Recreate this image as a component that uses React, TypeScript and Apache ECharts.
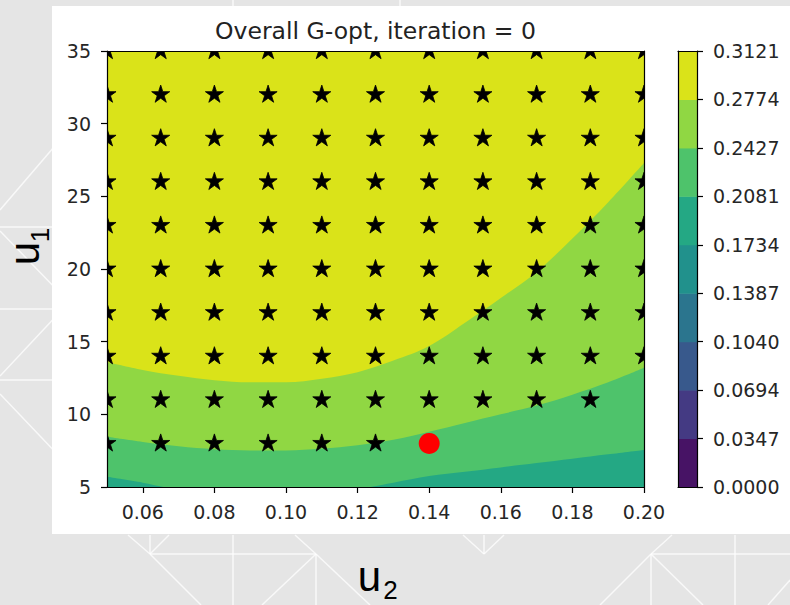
import React, { useEffect, useRef } from "react";
import * as echarts from "echarts";

// Sample positions along u2 where the contour band edges are given
const u2Samples = [0.05, 0.06, 0.07, 0.08, 0.09, 0.1, 0.11, 0.12, 0.13, 0.14, 0.15, 0.16, 0.17, 0.18, 0.19, 0.2];
// u1 of the 0.2774 contour (top of the light-green band)
const boundaryA = [13.6, 13.05, 12.65, 12.35, 12.2, 12.2, 12.45, 12.9, 13.7, 14.7, 16.3, 18.0, 19.8, 22.1, 24.6, 27.3];
// u1 of the 0.2427 contour
const boundaryB = [8.45, 8.1, 7.8, 7.6, 7.52, 7.52, 7.65, 7.88, 8.25, 8.8, 9.4, 10.0, 10.6, 11.35, 12.2, 13.2];
// u1 of the 0.2081 contour
const boundaryC = [5.7, 5.3, 4.8, 4.5, 4.4, 4.4, 4.55, 4.85, 5.3, 5.75, 6.05, 6.35, 6.65, 6.95, 7.25, 7.55];

// Contour levels and their viridis fill colours (one per band)
const levels = [0, 0.0347, 0.0694, 0.104, 0.1387, 0.1734, 0.2081, 0.2427, 0.2774, 0.3121];
const levelColors = ["#471365", "#443a83", "#38598c", "#2b758e", "#21918c", "#24a884", "#4ec36b", "#90d743", "#dae319"];

const u2Ticks = [0.06, 0.08, 0.1, 0.12, 0.14, 0.16, 0.18, 0.2];
const u1Ticks = [5, 10, 15, 20, 25, 30, 35];
const u2Range = [0.05, 0.2];
const u1Range = [5, 35];

// Candidate design points still in play (stars) and the chosen one (red dot)
const u2Grid = [0.05, 0.065, 0.08, 0.095, 0.11, 0.125, 0.14, 0.155, 0.17, 0.185, 0.2];
const u1Grid = [35, 32, 29, 26, 23, 20, 17, 14, 11, 8];
const starsPerRow = [11, 11, 11, 11, 11, 11, 11, 11, 10, 6];
const chosenPoint = [0.14, 8];

const TITLE = "Overall G-opt, iteration = 0";

function starPath(R: number): string {
  const r = R * 0.381966;
  const pts: string[] = [];
  for (let k = 0; k < 10; k++) {
    const rad = k % 2 === 0 ? R : r;
    const a = -Math.PI / 2 + (k * Math.PI) / 5;
    pts.push(`${(rad * Math.cos(a)).toFixed(2)} ${(rad * Math.sin(a)).toFixed(2)}`);
  }
  return "M" + pts.join(" L") + " Z";
}

const STAR = starPath(9.5);

const starPoints: number[][] = [];
u1Grid.forEach((u1, row) => {
  for (let i = 0; i < starsPerRow[row]; i++) starPoints.push([u2Grid[i], u1]);
});

const tickFont = { fontFamily: "DejaVu Sans", fontSize: 19, color: "#262626" };
const spine = { show: true, onZero: false, lineStyle: { color: "#000", width: 1.2 } };
const noTicks = { show: false };
const noLabels = { show: false };
const noSplit = { show: false };

function band(vals: number[] | null, color: string, name: string) {
  const data = vals
    ? u2Samples.map((x, i) => [x, vals[i]])
    : [
        [u2Range[0], u1Range[1]],
        [u2Range[1], u1Range[1]],
      ];
  return {
    type: "line",
    name,
    xAxisIndex: 0,
    yAxisIndex: 0,
    data,
    smooth: 0.35,
    symbol: "none",
    showSymbol: false,
    lineStyle: { width: 0, color },
    areaStyle: { color, opacity: 1, origin: "start" },
    clip: true,
    silent: true,
    z: 1,
  };
}

// Decorative page backdrop segments
const backdrop: number[][] = [
  [0, 210, 60, 140],
  [0, 227, 52, 227],
  [0, 231, 60, 293],
  [0, 309, 52, 309],
  [0, 376, 60, 312],
  [0, 380, 52, 380],
  [0, 394, 60, 457],
  [128, 535, 150, 554],
  [169, 535, 150, 554],
  [150, 554, 201, 605],
  [150, 535, 150, 554],
  [150, 554, 316, 554],
  [233, 535, 233, 605],
  [295, 535, 316, 554],
  [316, 554, 262, 605],
  [316, 554, 370, 605],
  [316, 554, 316, 605],
  [463, 535, 484, 554],
  [504, 535, 484, 554],
  [484, 535, 484, 554],
  [651, 554, 600, 605],
  [651, 554, 703, 605],
  [651, 554, 672, 535],
  [651, 554, 651, 605],
  [651, 554, 790, 554],
  [735, 535, 735, 605],
  [790, 580, 768, 605],
  [233, 0, 233, 8],
  [400, 0, 400, 8],
];

function label(text: string, x: number, y: number, size: number, rotation = 0) {
  return {
    type: "text",
    x,
    y,
    rotation,
    style: {
      text,
      fontFamily: "Liberation Sans",
      fontSize: size,
      fill: "#000",
      align: "center",
      verticalAlign: "middle",
      textAlign: "center",
      textVerticalAlign: "middle",
    },
  };
}

export default function App() {
  const ref = useRef<HTMLDivElement>(null);

  useEffect(() => {
    if (!ref.current) return;
    const chart = echarts.init(ref.current, undefined, { renderer: "svg" });

    const graphics: any[] = backdrop.map((s) => ({
      type: "line",
      z: -20,
      silent: true,
      shape: { x1: s[0], y1: s[1], x2: s[2], y2: s[3] },
      style: { stroke: "rgba(255,255,255,0.75)", lineWidth: 1.5 },
    }));
    graphics.push(
      {
        type: "rect",
        z: -10,
        silent: true,
        shape: { x: 52, y: 6, width: 738, height: 528 },
        style: { fill: "#ffffff" },
      },
      {
        type: "text",
        x: 375.5,
        y: 31,
        style: {
          text: TITLE,
          fontFamily: "DejaVu Sans",
          fontSize: 23.5,
          fill: "#222",
          align: "center",
          verticalAlign: "middle",
          textAlign: "center",
          textVerticalAlign: "middle",
        },
      },
      label("u", 369.5, 576.5, 42),
      label("2", 390.5, 589.5, 26),
      label("u", 24.5, 253.5, 42, Math.PI / 2),
      label("1", 39.5, 235, 26, Math.PI / 2)
    );

    const option: any = {
      animation: false,
      backgroundColor: "#e5e5e5",
      grid: [
        { left: 107, top: 51, width: 537, height: 436 },
        { left: 678, top: 51, width: 19, height: 436 },
      ],
      xAxis: [
        {
          gridIndex: 0,
          type: "value",
          min: u2Range[0],
          max: u2Range[1],
          position: "bottom",
          axisLine: spine,
          axisTick: { show: true, length: 6, lineStyle: { color: "#000", width: 1.2 }, customValues: u2Ticks },
          axisLabel: { customValues: u2Ticks, formatter: (v: number) => v.toFixed(2), margin: 15, ...tickFont },
          splitLine: noSplit,
          z: 5,
        },
        {
          gridIndex: 0,
          type: "value",
          min: u2Range[0],
          max: u2Range[1],
          position: "top",
          axisLine: spine,
          axisTick: noTicks,
          axisLabel: noLabels,
          splitLine: noSplit,
          z: 5,
        },
        {
          gridIndex: 1,
          type: "value",
          min: 0,
          max: 1,
          position: "bottom",
          axisLine: spine,
          axisTick: noTicks,
          axisLabel: noLabels,
          splitLine: noSplit,
          z: 5,
        },
        {
          gridIndex: 1,
          type: "value",
          min: 0,
          max: 1,
          position: "top",
          axisLine: spine,
          axisTick: noTicks,
          axisLabel: noLabels,
          splitLine: noSplit,
          z: 5,
        },
      ],
      yAxis: [
        {
          gridIndex: 0,
          type: "value",
          min: u1Range[0],
          max: u1Range[1],
          position: "left",
          axisLine: spine,
          axisTick: { show: true, length: 6, lineStyle: { color: "#000", width: 1.2 }, customValues: u1Ticks },
          axisLabel: { customValues: u1Ticks, margin: 16, ...tickFont },
          splitLine: noSplit,
          z: 5,
        },
        {
          gridIndex: 0,
          type: "value",
          min: u1Range[0],
          max: u1Range[1],
          position: "right",
          axisLine: spine,
          axisTick: noTicks,
          axisLabel: noLabels,
          splitLine: noSplit,
          z: 5,
        },
        {
          gridIndex: 1,
          type: "value",
          min: levels[0],
          max: levels[levels.length - 1],
          position: "right",
          axisLine: spine,
          axisTick: { show: true, length: 6, lineStyle: { color: "#000", width: 1.2 }, customValues: levels },
          axisLabel: { customValues: levels, formatter: (v: number) => v.toFixed(4), margin: 16, ...tickFont },
          splitLine: noSplit,
          z: 5,
        },
        {
          gridIndex: 1,
          type: "value",
          min: levels[0],
          max: levels[levels.length - 1],
          position: "left",
          axisLine: spine,
          axisTick: noTicks,
          axisLabel: noLabels,
          splitLine: noSplit,
          z: 5,
        },
      ],
      graphic: { elements: graphics },
      series: [
        band(null, levelColors[8], "0.2774 – 0.3121"),
        band(boundaryA, levelColors[7], "0.2427 – 0.2774"),
        band(boundaryB, levelColors[6], "0.2081 – 0.2427"),
        band(boundaryC, levelColors[5], "0.1734 – 0.2081"),
        {
          type: "custom",
          name: "candidates",
          xAxisIndex: 0,
          yAxisIndex: 0,
          clip: true,
          silent: true,
          z: 3,
          data: starPoints,
          renderItem: (_params: any, api: any) => {
            const p = api.coord([api.value(0), api.value(1)]);
            return {
              type: "path",
              x: p[0],
              y: p[1],
              shape: { pathData: STAR },
              style: { fill: "#000", stroke: "#000", lineWidth: 0.8 },
            };
          },
        },
        {
          type: "scatter",
          name: "chosen",
          xAxisIndex: 0,
          yAxisIndex: 0,
          data: [chosenPoint],
          symbol: "circle",
          symbolSize: 21,
          itemStyle: { color: "#ff0000", opacity: 1 },
          silent: true,
          z: 4,
        },
        {
          type: "custom",
          name: "colorbar",
          xAxisIndex: 2,
          yAxisIndex: 2,
          silent: true,
          z: 2,
          data: levelColors.map((_, i) => [levels[i], levels[i + 1], i]),
          renderItem: (_params: any, api: any) => {
            const lo = api.coord([0, api.value(0)]);
            const hi = api.coord([1, api.value(1)]);
            return {
              type: "rect",
              shape: { x: lo[0], y: hi[1], width: hi[0] - lo[0], height: lo[1] - hi[1] + 0.5 },
              style: { fill: levelColors[api.value(2)] },
            };
          },
        },
      ],
    };

    chart.setOption(option);
    return () => chart.dispose();
  }, []);

  return (
    <div
      ref={ref}
      style={{ position: "fixed", left: 0, top: 0, width: 790, height: 605 }}
    />
  );
}
